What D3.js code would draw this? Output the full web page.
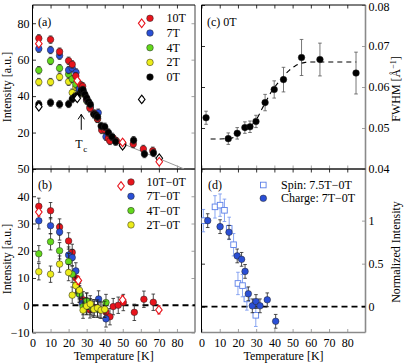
<!DOCTYPE html>
<html><head><meta charset="utf-8">
<script src="https://cdn.jsdelivr.net/npm/d3@7"></script>
<style>body{margin:0;background:#fff} text{font-family:"Liberation Serif","Times New Roman",serif;}</style>
</head><body><svg id="c" width="407" height="363"></svg>
<script>
// ---------- DATA ----------
const xTicks = [0,10,20,30,40,50,60,70,80];
const aTicks = [0,20,40,60,80], aLabels = [20,40,60,80];
const bTicks = [-10,0,10,20,30,40,50];
const cTicks = [0.04,0.05,0.06,0.07,0.08];
const dTicks = [0,0.5,1];

// panel (a): intensity vs T
const a10T_T = [3.5,10,15,20,22,24,26.7,27.8,30,31.8,34,36,38.3,40,42,42.9,44.7,46.5,50,55.8,61.4,66.6];
const a10T_I = [71.7,71.0,64.4,59.4,57.4,51,46.1,45.4,38.5,33.3,30.5,27.5,21.4,21.5,16.8,15.4,17,15.3,13.8,13.7,11,10];
const a7T_T = [3.5,10,15,20,22,24.1,26,28,30,32,36.4,40.7,42];
const a7T_I = [66,65.3,62.2,54.3,55.3,53,44,42.5,38,34,30.9,17.7,19.5];
const a4T_T = [3.5,10,15,20,22,24,26,28,30,32,36,40];
const a4T_I = [54.2,59.3,55.3,52,49.4,46.5,44,42,38,34.5,28,22.5];
const a2T_T = [3.5,10,15,20,22,24,26,28,30,32,36,40];
const a2T_I = [47.7,47.7,50.5,47.9,41.9,45,44,41.5,37.5,34,27.5,22];
const a0T_T = [3.5,10,15,20,22,23.5,25,27,28,29,30,31,32,34,35,36,38,40,42,44,46,50,56,62,67];
const a0T_I = [35.5,36.4,35.5,35.7,38.4,39.7,40.5,43,43.4,41,39,37,35.5,30,29.6,28.7,23.6,23.2,20,17.7,15,13.6,15.8,8.2,8.8];
const a10Td_T = [3.5,24.8,49.9,70.2];
const a10Td_I = [68.8,48.5,14.6,4];
const a0Td_T = [3.5,24.8,49.9,70.2,60.5];
const a0Td_I = [34.2,38.8,12.8,5.9,38.2];
const fitA_T = [40,84];
const fitA_I = [18,0];
const tcT = 27, tcArrow = [21.5,30];

// panel (b): difference
const b10_T = [3.5,10,15,20,22,24,26,28,30,31.8,34.2,37.4,40.7,42.9,44.7,47.5,50.3,56.4,61.7,66.9];
const b10_V = [36.3,34.7,28.7,23.6,19.4,10,5,2,-0.5,-1.7,-0.9,-1.7,-2.5,-4.2,-0.5,0,1,-2.6,2.2,1.1];
const b7_T = [3.5,10,15,20,22,24,26,27.6,30,32,36.6,40.7];
const b7_V = [31,29.2,26.9,18.4,17.5,12.6,4,0.7,1.5,-0.5,2.3,-5];
const b4_T = [3.5,10,15,20,22,24,26,28,30,33,36,40.7];
const b4_V = [18.9,23.3,20,16,11.4,7.5,4.2,-0.5,1.5,-1,-1.5,1];
const b2_T = [3.5,10,15,20,22,24,26,28,30,32,34,36,38,40];
const b2_V = [12.3,11.4,15.1,12,3.7,7.2,5.5,-1.8,-0.3,0.5,-1.5,-1,-1.8,-1.5];
const b10d_T = [3.5,25.4,49.9,70];
const b10d_V = [34.2,9.1,2,-1.7];

// panel (c): FWHM at 0T
const cT = [2.5,14.7,19.6,23.8,26.6,29.9,34.9,39.9,45,54.9,65,84.8];
const cW = [0.0525,0.0474,0.0487,0.0501,0.0503,0.0516,0.0562,0.0594,0.0618,0.0672,0.0667,0.0634];
const cE = [0.0016,0.0014,0.0014,0.0014,0.0014,0.0015,0.002,0.0021,0.003,0.0044,0.004,0.0051];
const fitC_T = [5,15,18,20,24,27,30,33,36,39,42,45,48,51,54,57,60,85];
const fitC_W = [0.0473,0.0474,0.0478,0.0484,0.0495,0.0505,0.052,0.0545,0.057,0.0593,0.061,0.0626,0.064,0.065,0.0657,0.066,0.0661,0.0661];

// panel (d): normalized
const spinT = [1,7.4,10.2,12.6,15.2,17.6,20,22.5,24.9,29.8];
const spinV = [1.0,1.16,1.18,1.12,0.91,0.72,0.27,0.245,0.09,-0.1];
const chargeT = [3.4,10.2,15.1,19.6,22,23.9,25.7,27.9,29.9,32.1,36.1,40.7];
const chargeV = [1.0,0.93,0.865,0.59,0.55,0.41,0.15,0.01,0.06,0.01,0.08,-0.17];

const legA = ["10T","7T","4T","2T","0T"];
const legB = ["10T\u22120T","7T\u22120T","4T\u22120T","2T\u22120T"];
const legD = ["Spin: 7.5T\u22120T","Charge: 7T\u22120T"];
const colors = {r:"#e8141c", b:"#2a4fd6", g:"#63d81c", y:"#ecec1a", k:"#000"};

// ---------- SCALES ----------
const svg = d3.select("#c");
const FONT = "Liberation Serif, Times New Roman, serif";
const gray = "#8a8a8a";
const xL = d3.scaleLinear([0,90],[32.5,195]);
const xR = d3.scaleLinear([0,90],[201.5,365.5]);
const yA = d3.scaleLinear([0,90],[169,5]);
const yB = d3.scaleLinear([-10,50],[332.5,169]);
const yC = d3.scaleLinear([0.04,0.08],[169,5]);
const yD = d3.scaleLinear([-0.3,1.6],[332.5,169]);

function clip(id,x,y){
  svg.append("clipPath").attr("id",id).append("rect")
    .attr("x",x.range()[0]).attr("y",y.range()[1])
    .attr("width",x.range()[1]-x.range()[0]).attr("height",y.range()[0]-y.range()[1]);
}
clip("ca",xL,yA); clip("cb",xL,yB); clip("cc",xR,yC); clip("cd",xR,yD);

function ax(axis,tx,ty,color){
  const g = svg.append("g").attr("transform",`translate(${tx},${ty})`).call(axis);
  g.select(".domain").remove();
  g.attr("font-size",12).attr("font-family",FONT);
  g.selectAll("line").attr("stroke",color).attr("stroke-width",0.8);
  g.selectAll("text").attr("fill","#000");
  return g;
}
const TS = -3.5;
function frame(x,y,yt){
  const [x0,x1]=x.range(), y0=y.range()[1], y1=y.range()[0];
  ax(d3.axisTop(x).tickValues(xTicks).tickSize(TS).tickFormat(""),0,y0,"#000");
  ax(d3.axisBottom(x).tickValues(xTicks).tickSize(TS).tickFormat(""),0,y1,gray);
  ax(d3.axisLeft(y).tickValues(yt).tickSize(TS).tickFormat(""),x0,0,"#000");
  ax(d3.axisRight(y).tickValues(yt).tickSize(TS).tickFormat(""),x1,0,gray);
  svg.append("line").attr("x1",x1).attr("x2",x1).attr("y1",y0).attr("y2",y1).attr("stroke",gray).attr("stroke-width",1.6);
  svg.append("line").attr("x1",x0).attr("x2",x1).attr("y1",y1).attr("y2",y1).attr("stroke",gray).attr("stroke-width",1.6);
  svg.append("line").attr("x1",x0).attr("x2",x1).attr("y1",y0).attr("y2",y0).attr("stroke","#000").attr("stroke-width",1);
  svg.append("line").attr("x1",x0).attr("x2",x0).attr("y1",y0).attr("y2",y1).attr("stroke","#000").attr("stroke-width",1);
}
frame(xL,yA,aTicks); frame(xR,yC,cTicks);
frame(xL,yB,bTicks); frame(xR,yD,dTicks);

// labeled axes
ax(d3.axisLeft(yA).tickValues(aLabels).tickSize(0).tickPadding(3),32.5,0,"#000");
ax(d3.axisLeft(yB).tickValues(bTicks).tickSize(0).tickPadding(3),32.5,0,"#000");
const cax = ax(d3.axisRight(yC).tickValues(cTicks).tickSize(0).tickPadding(3).tickFormat(d3.format(".2f")),365.5,0,"#000");
cax.selectAll("text").filter(d=>d===0.08).attr("dy","0.45em");
ax(d3.axisRight(yD).tickValues(dTicks).tickSize(0).tickPadding(3).tickFormat(d3.format("~g")),365.5,0,"#000");
ax(d3.axisBottom(xL).tickValues(xTicks).tickSize(0).tickPadding(6),0,332.5,"#000");
ax(d3.axisBottom(xR).tickValues(xTicks).tickSize(0).tickPadding(6),0,332.5,"#000");

// ---------- helpers ----------
function pts(T,V){ return T.map((t,i)=>({t,v:V[i],i})); }
function errbars(g,x,y,T,V,E,color,cap,w){
  const d = pts(T,V);
  const e = i => Array.isArray(E)?E[i]:E;
  const gg = g.append("g").attr("stroke",color).attr("stroke-width",w);
  gg.selectAll(".v").data(d).join("line").attr("x1",p=>x(p.t)).attr("x2",p=>x(p.t))
    .attr("y1",p=>y(p.v-e(p.i))).attr("y2",p=>y(p.v+e(p.i)));
  [-1,1].forEach(s=>{
    gg.selectAll(".c"+(s+1)).data(d).join("line").attr("x1",p=>x(p.t)-cap).attr("x2",p=>x(p.t)+cap)
      .attr("y1",p=>y(p.v+s*e(p.i))).attr("y2",p=>y(p.v+s*e(p.i)));
  });
}
function circles(g,x,y,T,V,fill,r){
  g.append("g").selectAll("circle").data(pts(T,V)).join("circle")
    .attr("cx",p=>x(p.t)).attr("cy",p=>y(p.v)).attr("r",r||3.3)
    .attr("fill",fill).attr("stroke","#222").attr("stroke-width",0.5);
}
const diamondPath = "M0,-4.3L3.3,0L0,4.3L-3.3,0Z";
function diamonds(g,x,y,T,V,color){
  g.append("g").selectAll("path").data(pts(T,V)).join("path")
    .attr("d",diamondPath).attr("transform",p=>`translate(${x(p.t)},${y(p.v)})`)
    .attr("fill","#fff").attr("stroke",color).attr("stroke-width",1.1);
}
function series(g,x,y,T,V,E,fill){
  errbars(g,x,y,T,V,E,"#222",1.8,0.8);
  circles(g,x,y,T,V,fill);
}
function txt(x,y,s,anchor,size){
  return svg.append("text").attr("x",x).attr("y",y).attr("font-size",size||12)
    .attr("font-family",FONT).attr("text-anchor",anchor||"start").attr("dominant-baseline","central").text(s);
}

// ---------- panel (a) ----------
const gA = svg.append("g").attr("clip-path","url(#ca)");
gA.append("path").datum(pts(fitA_T,fitA_I))
  .attr("d",d3.line().x(p=>xL(p.t)).y(p=>yA(p.v))).attr("fill","none").attr("stroke","#999").attr("stroke-width",1);
series(gA,xL,yA,a2T_T,a2T_I,2,colors.y);
series(gA,xL,yA,a4T_T,a4T_I,2,colors.g);
series(gA,xL,yA,a7T_T,a7T_I,2,colors.b);
series(gA,xL,yA,a10T_T,a10T_I,2,colors.r);
series(gA,xL,yA,a0T_T,a0T_I,2,colors.k);
errbars(gA,xL,yA,a0Td_T,a0Td_I,1.5,"#222",1.8,0.8);
diamonds(gA,xL,yA,a0Td_T,a0Td_I,"#000");
diamonds(gA,xL,yA,a10Td_T,a10Td_I,colors.r);
// Tc arrow
const ax0 = xL(tcT);
svg.append("path").attr("d",`M${ax0},${yA(tcArrow[0])}V${yA(tcArrow[1])}M${ax0-3.2},${yA(tcArrow[1])+5}L${ax0},${yA(tcArrow[1])}L${ax0+3.2},${yA(tcArrow[1])+5}`)
  .attr("fill","none").attr("stroke","#000").attr("stroke-width",1);
svg.append("text").attr("x",ax0).attr("y",148).attr("text-anchor","middle").attr("font-size",12).attr("font-family",FONT)
  .text("T").append("tspan").attr("font-size",9).attr("dy",4).attr("dx",0.5).text("c");
txt(38,21.7,"(a)");
const legAcol=[colors.r,colors.b,colors.g,colors.y,colors.k];
legA.forEach((s,i)=>{
  const yy = 18.3+i*14.7;
  svg.append("circle").attr("cx",150).attr("cy",yy).attr("r",3.3).attr("fill",legAcol[i]).attr("stroke","#222").attr("stroke-width",0.5);
  txt(166.5,yy,s);
});
svg.append("path").attr("d",diamondPath).attr("transform","translate(141.7,23.3)").attr("fill","#fff").attr("stroke",colors.r).attr("stroke-width",1.1);

// ---------- panel (b) ----------
const gB = svg.append("g").attr("clip-path","url(#cb)");
gB.append("line").attr("x1",xL(0)).attr("x2",xL(90)).attr("y1",yB(0)).attr("y2",yB(0))
  .attr("stroke","#000").attr("stroke-width",1.8).attr("stroke-dasharray","6,4");
series(gB,xL,yB,b10_T,b10_V,3,colors.r);
series(gB,xL,yB,b7_T,b7_V,3,colors.b);
series(gB,xL,yB,b4_T,b4_V,3,colors.g);
series(gB,xL,yB,b2_T,b2_V,3,colors.y);
errbars(gB,xL,yB,b10d_T,b10d_V,1.5,"#e8141c",1.8,0.8);
diamonds(gB,xL,yB,b10d_T,b10d_V,colors.r);
txt(38,185,"(b)");
const legBcol=[colors.r,colors.b,colors.g,colors.y];
legB.forEach((s,i)=>{
  const yy = 182+i*14.3;
  svg.append("circle").attr("cx",131).attr("cy",yy).attr("r",3.3).attr("fill",legBcol[i]).attr("stroke","#222").attr("stroke-width",0.5);
  txt(146.5,yy,s);
});
svg.append("path").attr("d",diamondPath).attr("transform","translate(121,186)").attr("fill","#fff").attr("stroke",colors.r).attr("stroke-width",1.1);

// ---------- panel (c) ----------
const gC = svg.append("g").attr("clip-path","url(#cc)");
gC.append("path").datum(pts(fitC_T,fitC_W))
  .attr("d",d3.line().curve(d3.curveMonotoneX).x(p=>xR(p.t)).y(p=>yC(p.v)))
  .attr("fill","none").attr("stroke","#000").attr("stroke-width",1.1).attr("stroke-dasharray","5,4");
errbars(gC,xR,yC,cT,cW,cE,"#555",1.8,0.8);
circles(gC,xR,yC,cT,cW,"#000");
txt(207,21.7,"(c) 0T");

// ---------- panel (d) ----------
const gD = svg.append("g").attr("clip-path","url(#cd)");
gD.append("line").attr("x1",xR(0)).attr("x2",xR(90)).attr("y1",yD(0)).attr("y2",yD(0))
  .attr("stroke","#000").attr("stroke-width",1.8).attr("stroke-dasharray","6,4");
errbars(gD,xR,yD,spinT,spinV,0.13,"#7d9cf0",1.8,0.9);
gD.append("g").selectAll("rect").data(pts(spinT,spinV)).join("rect")
  .attr("x",p=>xR(p.t)-2.8).attr("y",p=>yD(p.v)-2.8).attr("width",5.6).attr("height",5.6)
  .attr("fill","#fff").attr("stroke","#5b7fe8").attr("stroke-width",0.9);
errbars(gD,xR,yD,chargeT,chargeV,0.08,"#222",1.8,0.8);
circles(gD,xR,yD,chargeT,chargeV,colors.b);
txt(208,185,"(d)");
svg.append("rect").attr("x",260.5).attr("y",182.2).attr("width",5.6).attr("height",5.6).attr("fill","#fff").attr("stroke","#5b7fe8").attr("stroke-width",0.9);
txt(281,185,legD[0]);
svg.append("circle").attr("cx",263.3).attr("cy",198.3).attr("r",3.3).attr("fill",colors.b).attr("stroke","#222").attr("stroke-width",0.5);
txt(281,198.3,legD[1]);

// ---------- axis titles ----------
function vtitle(x,y,s){
  return svg.append("text").attr("transform",`translate(${x},${y}) rotate(-90)`).attr("text-anchor","middle")
    .attr("font-size",12).attr("font-family",FONT).text(s);
}
vtitle(10.5,87,"Intensity [a.u.]");
vtitle(10.5,259,"Intensity [a.u.]");
const fw = vtitle(400,89,"FWHM [Å");
fw.append("tspan").attr("font-size",8).attr("dy",-4).text("\u22121");
fw.append("tspan").attr("dy",4).text("]");
vtitle(400,252,"Normalized Intensity");
svg.append("text").attr("x",113.7).attr("y",359.5).attr("text-anchor","middle").attr("font-size",12).attr("font-family",FONT).text("Temperature [K]");
svg.append("text").attr("x",283.5).attr("y",359.5).attr("text-anchor","middle").attr("font-size",12).attr("font-family",FONT).text("Temperature [K]");
</script></body></html>
